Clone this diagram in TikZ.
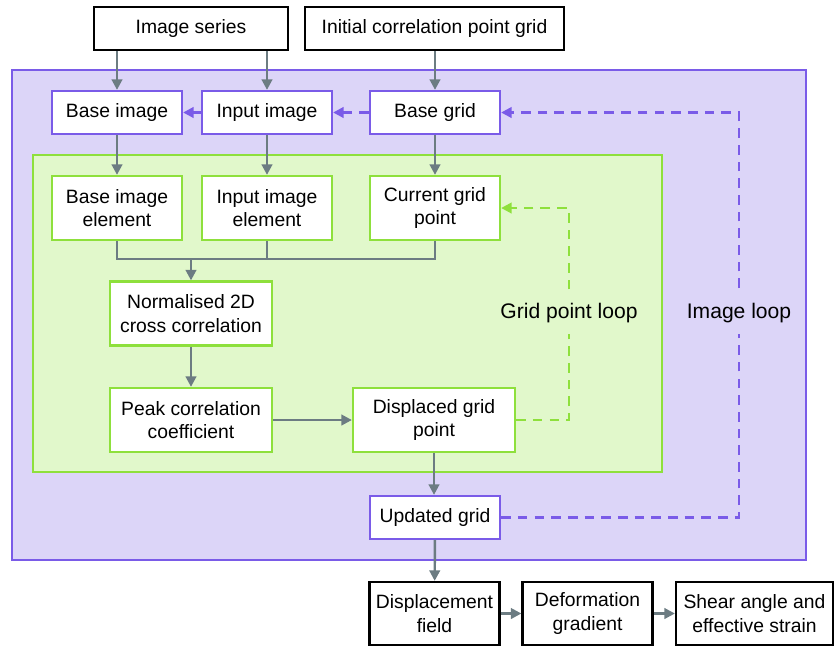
\documentclass[tikz,border=0pt]{standalone}
\usepackage{fontspec}
\setmainfont{Liberation Sans}
\usetikzlibrary{arrows.meta}
\definecolor{imgline}{HTML}{7A5BE8}
\definecolor{imgfill}{HTML}{DCD5F8}
\definecolor{ptline}{HTML}{8EE03C}
\definecolor{ptfill}{HTML}{E1F8CB}
\definecolor{flow}{HTML}{6C7C82}

\begin{document}
\begin{tikzpicture}[x=0.02cm, y=-0.02cm, font=\fontsize{11}{13.5}\selectfont]
    \tikzset{box/.style={draw=black, line width=1.3pt, fill=white, align=center,
        minimum width=2.6cm, minimum height=0.86cm, inner sep=1pt}}
    \tikzset{imgbox/.style={box, draw=imgline}}
    \tikzset{ptbox/.style={box, draw=ptline, minimum height=1.28cm}}
    \tikzset{wide/.style={minimum width=3.24cm}}
    \tikzset{tip/.style={-{Triangle[length=6pt,width=6pt]}}}
    \tikzset{flowarrow/.style={draw=flow, line width=1.4pt, tip}}
    \tikzset{loopline/.style={line width=1.4pt, dash pattern=on 5.5pt off 4pt, tip}}
    \tikzset{looplabel/.style={text=black, inner sep=6pt, font=\fontsize{12}{14}\selectfont}}
    \useasboundingbox (0,0) rectangle (834,650);
    % regions
    \draw[imgline, fill=imgfill, line width=1pt] (12,70) rectangle (806,560);
    \draw[ptline, fill=ptfill, line width=1pt] (33,155) rectangle (662,472);
    % inputs
    \node[box, minimum width=3.88cm] (series) at (191,28.5) {Image series};
    \node[box, minimum width=5.18cm] (initgrid) at (434.5,28.5) {Initial correlation point grid};
    % image loop
    \node[imgbox] (baseimg) at (117,112.5) {Base image};
    \node[imgbox] (inputimg) at (267,112.5) {Input image};
    \node[imgbox] (basegrid) at (435,112.5) {Base grid};
    % grid point loop
    \node[ptbox] (baseel) at (117,208) {Base image\\element};
    \node[ptbox] (inputel) at (267,208) {Input image\\element};
    \node[ptbox] (curpt) at (435,208) {Current grid\\point};
    \node[ptbox, wide] (ncc) at (191,313.5) {Normalised 2D\\cross correlation};
    \node[ptbox, wide] (peak) at (191,420) {Peak correlation\\coefficient};
    \node[ptbox, wide] (disp) at (434,420) {Displaced grid\\point};
    \node[imgbox] (updgrid) at (435,517.5) {Updated grid};
    % outputs
    \node[box, minimum height=1.26cm] (dfield) at (434.5,613.5) {Displacement\\field};
    \node[box, minimum height=1.26cm] (defgrad) at (587.5,613.5) {Deformation\\gradient};
    \node[box, minimum height=1.26cm, minimum width=3.14cm] (shear) at (754.5,613.5) {Shear angle and\\effective strain};
    \coordinate (merge) at (191,259);

    \draw[flowarrow] (series.south -| baseimg) -- (baseimg);
    \draw[flowarrow] (series.south -| inputimg) -- (inputimg);
    \draw[flowarrow] (initgrid.south -| basegrid) -- (basegrid);
    \draw[imgline, line width=1.4pt, tip] (inputimg) -- (baseimg);
    \draw[imgline, loopline] (basegrid) -- (inputimg);
    \draw[flowarrow] (baseimg) -- (baseel);
    \draw[flowarrow] (inputimg) -- (inputel);
    \draw[flowarrow] (basegrid) -- (curpt);
    \draw[draw=flow, line width=1.4pt] (baseel.south) |- (merge) -| (curpt.south);
    \draw[draw=flow, line width=1.4pt] (inputel.south) -- (inputel.south |- merge);
    \draw[flowarrow] (merge) -- (ncc);
    \draw[flowarrow] (ncc) -- (peak);
    \draw[flowarrow] (peak) -- (disp);
    \draw[flowarrow] (disp) -- (disp |- updgrid.north);
    \draw[flowarrow] (updgrid) -- (dfield);
    \draw[flowarrow] (dfield) -- (defgrad);
    \draw[flowarrow] (defgrad) -- (shear);
    % loops
    \draw[ptline, loopline]
        (disp.east) -| (569,313.5) node[fill=ptfill, looplabel] {Grid point loop} |- (curpt.east);
    \draw[imgline, loopline]
        (updgrid.east) -| (739,313.5) node[fill=imgfill, looplabel] {Image loop} |- (basegrid.east);
\end{tikzpicture}
\end{document}
